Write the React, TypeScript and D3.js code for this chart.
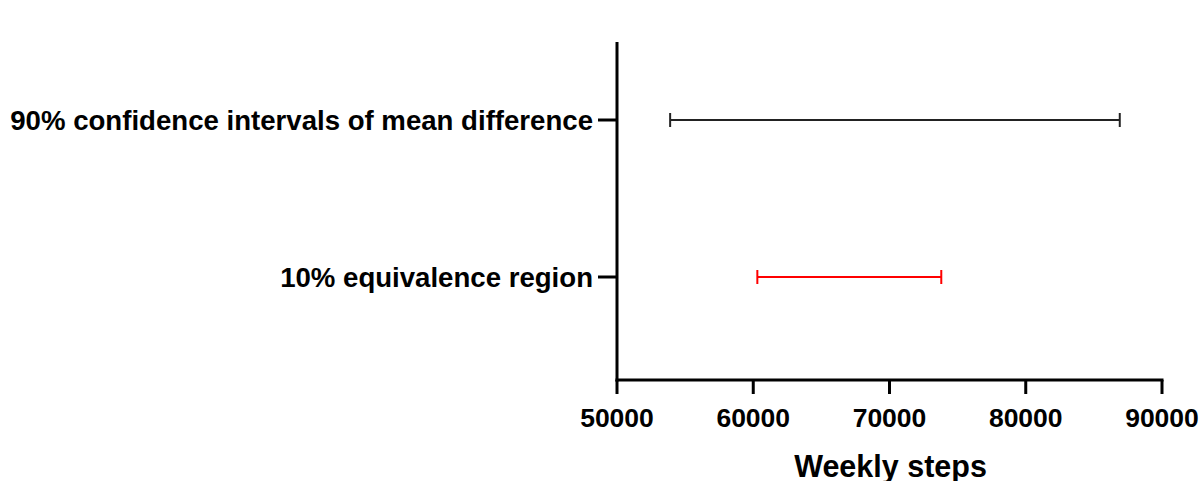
import React from "react";
import * as d3 from "d3";

const categories = ["90% confidence intervals of mean difference", "10% equivalence region"];
const lowerValues = [53900, 60300];
const upperValues = [86900, 73800];
const colors = ["#222222", "#ff0000"];
const xTicks = [50000, 60000, 70000, 80000, 90000];
const xTitle = "Weekly steps";

export default function App() {
  const W = 1203, H = 481;
  const x = d3.scaleLinear().domain([50000, 90000]).range([617, 1162]);
  const y = d3.scalePoint<string>().domain(categories).range([120, 277]);
  const axisY0 = 42, axisY1 = 380;
  const font = "'Liberation Sans', Arial, sans-serif";
  return (
    <svg width={W} height={H} style={{ position: "absolute", left: 0, top: 0, background: "#fff" }}>
      <line x1={x(50000)} x2={x(50000)} y1={axisY0} y2={axisY1 + 1.5} stroke="#000" strokeWidth={3} />
      <line x1={x(50000) - 1.5} x2={x(90000) + 1.5} y1={axisY1} y2={axisY1} stroke="#000" strokeWidth={3} />
      {xTicks.map((t) => (
        <g key={t}>
          <line x1={x(t)} x2={x(t)} y1={axisY1} y2={axisY1 + 14} stroke="#000" strokeWidth={3} />
          <text x={x(t)} y={axisY1 + 47} textAnchor="middle" fontFamily={font} fontWeight="bold" fontSize={26.5} fill="#000">
            {t}
          </text>
        </g>
      ))}
      <text x={x(70000) + 1} y={477} textAnchor="middle" fontFamily={font} fontWeight="bold" fontSize={30.5} fill="#000">
        {xTitle}
      </text>
      {categories.map((c, i) => {
        const yy = y(c)!;
        const x0 = x(lowerValues[i]);
        const x1 = x(upperValues[i]);
        return (
          <g key={c}>
            <line x1={x(50000) - 19} x2={x(50000)} y1={yy} y2={yy} stroke="#000" strokeWidth={3} />
            <text x={x(50000) - 24} y={yy} dy="0.36em" textAnchor="end" fontFamily={font} fontWeight="bold" fontSize={27.6} fill="#000">
              {c}
            </text>
            <line x1={x0} x2={x1} y1={yy} y2={yy} stroke={colors[i]} strokeWidth={2} />
            <line x1={x0} x2={x0} y1={yy - 7} y2={yy + 7} stroke={colors[i]} strokeWidth={2} />
            <line x1={x1} x2={x1} y1={yy - 7} y2={yy + 7} stroke={colors[i]} strokeWidth={2} />
          </g>
        );
      })}
    </svg>
  );
}
